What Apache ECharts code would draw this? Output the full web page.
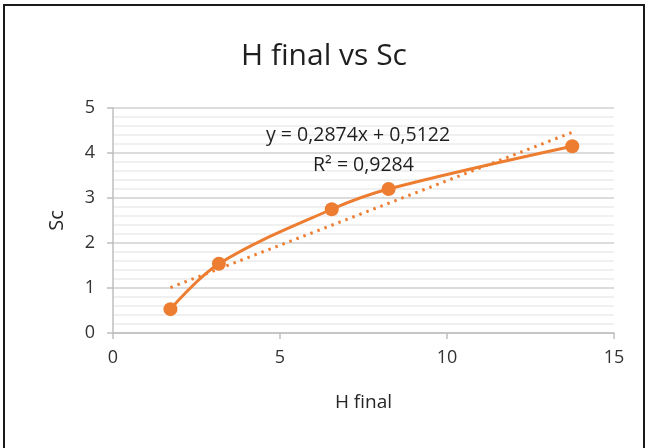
<!DOCTYPE html>
<html>
<head>
<meta charset="utf-8">
<script src="https://cdn.jsdelivr.net/npm/echarts@6/dist/echarts.min.js"></script>
<style>html,body{margin:0;padding:0;background:#fff;}#c{width:648px;height:448px;}</style>
</head>
<body>
<div id="c"></div>
<script>
const hFinal = [1.72, 3.17, 6.55, 8.25, 13.75];
const sc = [0.53, 1.54, 2.75, 3.20, 4.15];
const trendX = [1.72, 13.75];
const trendY = [1.01, 4.46];
const xTicks = [0, 5, 10, 15];
const yTicks = [0, 1, 2, 3, 4, 5];
const titleText = 'H final vs Sc';
const eqLine1 = 'y = 0,2874x + 0,5122';
const eqLine2 = 'R² = 0,9284';

const FONT = 'Open Sans';
const orange = '#ED7D31';
const chart = echarts.init(document.getElementById('c'));
chart.setOption({
  animation: false,
  title: {
    text: titleText, left: 'center', top: 36,
    textStyle: {fontFamily: FONT, fontSize: 30, fontWeight: 'normal', color: '#1f1f1f'}
  },
  grid: {left: 113, right: 34, top: 108, bottom: 115},
  xAxis: {
    type: 'value', min: xTicks[0], max: xTicks[xTicks.length - 1], interval: 5,
    name: 'H final', nameLocation: 'middle', nameGap: 60,
    nameTextStyle: {fontFamily: FONT, fontSize: 19, color: '#262626'},
    axisLine: {show: true, lineStyle: {color: '#bfbfbf', width: 1.5}},
    axisTick: {show: true, length: 6, lineStyle: {color: '#bfbfbf', width: 1.5}},
    axisLabel: {fontFamily: FONT, fontSize: 18, color: '#333', margin: 16},
    splitLine: {show: false}
  },
  yAxis: {
    type: 'value', min: yTicks[0], max: yTicks[yTicks.length - 1], interval: 1,
    name: 'Sc', nameLocation: 'middle', nameGap: 46, nameRotate: 90,
    nameTextStyle: {fontFamily: FONT, fontSize: 20, color: '#262626'},
    axisLine: {show: true, lineStyle: {color: '#bfbfbf', width: 1.5}},
    axisTick: {show: true, length: 6, lineStyle: {color: '#bfbfbf', width: 1.5}},
    axisLabel: {fontFamily: FONT, fontSize: 18, color: '#333', margin: 18},
    splitLine: {show: true, lineStyle: {color: '#d0d0d0', width: 1.5}},
    minorTick: {show: false, splitNumber: 5},
    minorSplitLine: {show: true, lineStyle: {color: '#ebebeb', width: 1.5}}
  },
  graphic: [
    {type: 'rect', shape: {x: 4, y: 5, width: 640, height: 460}, style: {fill: 'none', stroke: '#1a1a1a', lineWidth: 2}, z: 100},
    {type: 'text', left: 266, top: 125, style: {text: eqLine1, font: '19.5px "Open Sans"', fill: '#1f1f1f'}, z: 50},
    {type: 'text', left: 313, top: 155, style: {text: eqLine2, font: '19.5px "Open Sans"', fill: '#1f1f1f'}, z: 50}
  ],
  series: [
    {
      type: 'line', data: hFinal.map((x, i) => [x, sc[i]]), smooth: 0.35,
      symbol: 'circle', symbolSize: 14,
      lineStyle: {color: orange, width: 3}, itemStyle: {color: orange}, z: 3
    },
    {
      type: 'line', data: trendX.map((x, i) => [x, trendY[i]]), symbol: 'none',
      lineStyle: {color: orange, width: 3, type: [2.5, 5]}, z: 2
    }
  ]
});
</script>
</body>
</html>
